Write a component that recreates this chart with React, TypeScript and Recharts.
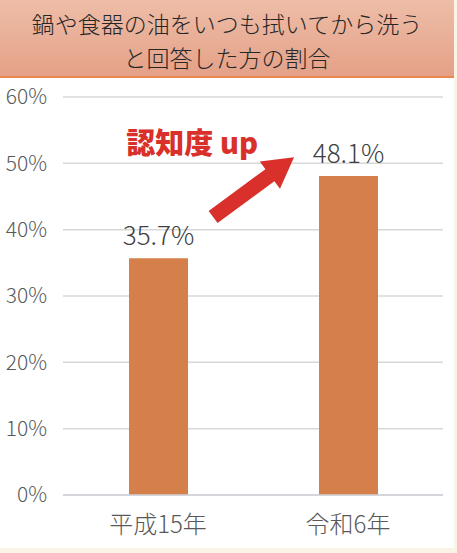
import React from 'react';
import {
  BarChart,
  Bar,
  XAxis,
  YAxis,
  CartesianGrid,
  LabelList,
  ReferenceLine,
  ReferenceDot,
} from 'recharts';

const titleLines = ['鍋や食器の油をいつも拭いてから洗う', 'と回答した方の割合'];
const categories = ['平成15年', '令和6年'];
const shares = [35.7, 48.1];
const yTicks = [0, 10, 20, 30, 40, 50, 60];
const arrowFrom = { x: 0.29, y: 41.9 };
const arrowTo = { x: 0.716, y: 50.9 };
const noteText = '認知度 up';
const notePos = { x: 0.18, y: 53.3 };

const data = categories.map((name, i) => ({ name, idx: i, value: shares[i] }));

const FONT = '"Noto Sans CJK JP", "Noto Sans", sans-serif';
const RED = '#d9302c';

/** Thick block arrow drawn between the segment end points */
function ArrowShape(props: any) {
  const { x1, y1, x2, y2 } = props;
  if ([x1, y1, x2, y2].some((v) => typeof v !== 'number' || isNaN(v))) return null;
  const dx = x2 - x1;
  const dy = y2 - y1;
  const len = Math.sqrt(dx * dx + dy * dy);
  const ux = dx / len;
  const uy = dy / len;
  const nx = -uy;
  const ny = ux;
  const shaft = 7.5;
  const head = 17;
  const headLen = 30;
  const bx = x2 - ux * headLen;
  const by = y2 - uy * headLen;
  const pts = [
    [x1 + nx * shaft, y1 + ny * shaft],
    [bx + nx * shaft, by + ny * shaft],
    [bx + nx * head, by + ny * head],
    [x2, y2],
    [bx - nx * head, by - ny * head],
    [bx - nx * shaft, by - ny * shaft],
    [x1 - nx * shaft, y1 - ny * shaft],
  ]
    .map((p) => p.join(','))
    .join(' ');
  return <polygon points={pts} fill={RED} />;
}

function NoteLabel(props: any) {
  const { viewBox } = props;
  if (!viewBox) return null;
  const cx = viewBox.cx ?? viewBox.x;
  const cy = viewBox.cy ?? viewBox.y;
  return (
    <text
      x={cx}
      y={cy}
      textAnchor="middle"
      dominantBaseline="central"
      fontFamily={FONT}
      fontWeight={900}
      fontSize={29}
      fill={RED}
    >
      {noteText}
    </text>
  );
}

export default function App() {
  return (
    <div style={{ width: 457, height: 553, background: '#faf3e6', position: 'relative' }}>
      <style>{'body{margin:0}'}</style>
      <div style={{ width: 454, height: 548, background: '#ffffff', position: 'absolute', left: 0, top: 0 }}>
        <div
          style={{
            height: 78,
            background: 'linear-gradient(#eebda8, #e4a187)',
            borderBottom: '2px solid #e8874f',
            display: 'flex',
            flexDirection: 'column',
            alignItems: 'center',
            justifyContent: 'center',
            fontFamily: FONT,
            fontSize: 23,
            fontWeight: 300,
            lineHeight: '34px',
            paddingTop: 4,
            boxSizing: 'border-box',
            color: '#262626',
          }}
        >
          {titleLines.map((t) => (
            <div key={t}>{t}</div>
          ))}
        </div>
        <BarChart
          width={454}
          height={470}
          data={data}
          margin={{ top: 19, right: 11, bottom: 0, left: 0 }}
        >
          <CartesianGrid vertical={false} stroke="#d8d8d8" strokeWidth={1.5} />
          <XAxis
            dataKey="name"
            axisLine={{ stroke: '#cfd2d8', strokeWidth: 1.5 }}
            tickLine={false}
            tickSize={0}
            tickMargin={21}
            height={53}
            tick={{ fill: '#595959', fontSize: 24, fontWeight: 300, fontFamily: FONT }}
          />
          <XAxis
            xAxisId="arrow"
            dataKey="idx"
            type="number"
            domain={[-0.5, 1.5]}
            allowDataOverflow
            hide
          />
          <YAxis
            domain={[0, 60]}
            ticks={yTicks}
            width={63}
            axisLine={false}
            tickLine={false}
            tickSize={0}
            tickMargin={16}
            tickFormatter={(v: number) => `${v}%`}
            tick={{ fill: '#595959', fontSize: 21, fontWeight: 300, fontFamily: FONT }}
          />
          <Bar dataKey="value" fill="#d57f4b" barSize={59} isAnimationActive={false}>
            <LabelList
              dataKey="value"
              position="top"
              offset={13}
              formatter={(v: any) => `${v}%`}
              style={{ fill: '#404040', fontSize: 26, fontWeight: 300, fontFamily: FONT }}
            />
          </Bar>
          <ReferenceLine
            xAxisId="arrow"
            segment={[arrowFrom, arrowTo]}
            shape={ArrowShape}
            ifOverflow="visible"
          />
          <ReferenceDot
            xAxisId="arrow"
            x={notePos.x}
            y={notePos.y}
            r={0}
            fill="none"
            stroke="none"
            ifOverflow="visible"
            label={<NoteLabel />}
          />
        </BarChart>
      </div>
    </div>
  );
}
